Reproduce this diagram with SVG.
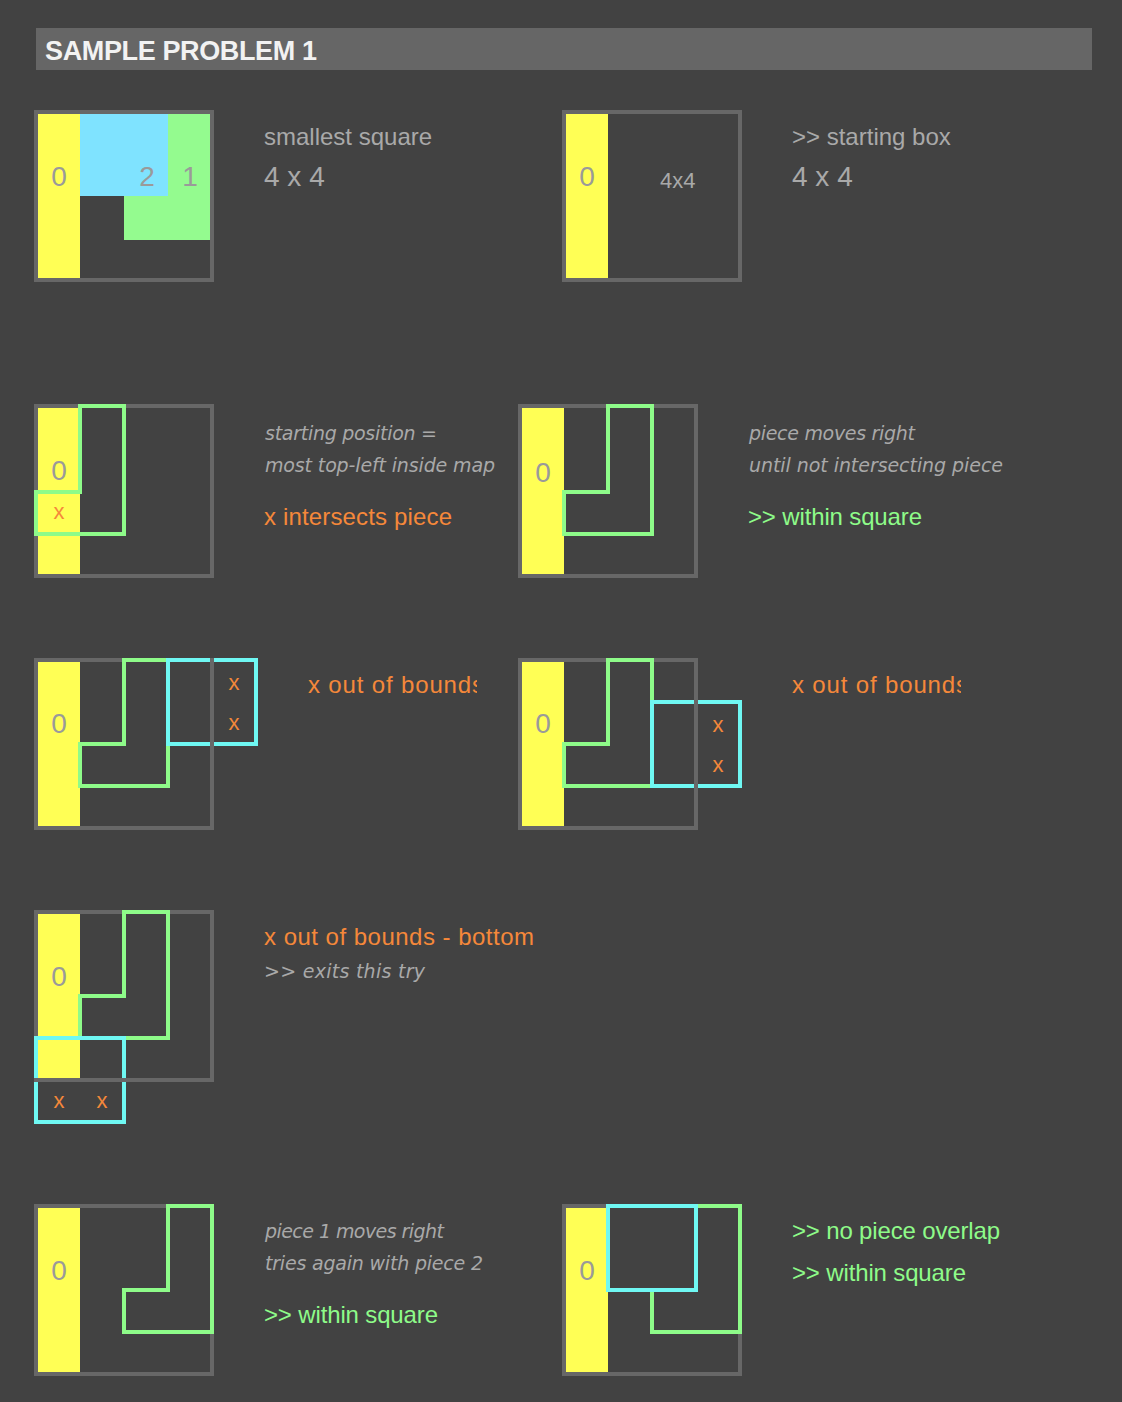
<svg xmlns="http://www.w3.org/2000/svg" width="1122" height="1402" viewBox="0 0 1122 1402">
<style>
.frame{fill:none;stroke:#676767;stroke-width:4}
.edge{stroke:#676767;stroke-width:4}
.yel{fill:#ffff55}
.blu{fill:#7fe3ff}
.grn{fill:#94fb8f}
.p1{fill:none;stroke:#8efb89;stroke-width:4}
.p2{fill:none;stroke:#6ff8f3;stroke-width:4}
.dig{font-family:"Liberation Sans",Arial,sans-serif;font-size:28px;fill:#9a9a9a;text-anchor:middle}
.xm{font-family:"Liberation Sans",Arial,sans-serif;font-size:22px;fill:#f5883a;text-anchor:middle}
.lab{font-family:"Liberation Sans",Arial,sans-serif;font-size:24px;fill:#a9a9a9}
.big{font-family:"Liberation Sans",Arial,sans-serif;font-size:28px;fill:#a9a9a9}
.it{font-family:"DejaVu Sans",sans-serif;font-style:italic;font-size:19px;fill:#a9a9a9}
.or{font-family:"Liberation Sans",Arial,sans-serif;font-size:24px;fill:#f5883a}
.gr{font-family:"Liberation Sans",Arial,sans-serif;font-size:24px;fill:#8efb89}
</style>
<defs>
<clipPath id="clipA"><rect x="300" y="660" width="177" height="50"/></clipPath>
<clipPath id="clipB"><rect x="784" y="660" width="177" height="50"/></clipPath>
</defs>
<rect width="1122" height="1402" fill="#424242"/>
<g id="header">
<rect x="36" y="28" width="1056" height="42" fill="#666666"/>
<text x="45" y="60" font-family="Liberation Sans, Arial, sans-serif" font-size="27" font-weight="bold" fill="#f2f2f2" textLength="272">SAMPLE PROBLEM 1</text>
</g>

<g id="panel1">
<rect class="yel" x="38" y="114" width="42" height="164"/>
<rect class="blu" x="80" y="114" width="88" height="82"/>
<rect class="grn" x="168" y="114" width="42" height="126"/>
<rect class="grn" x="124" y="196" width="44" height="44"/>
<rect class="frame" x="36" y="112" width="176" height="168"/>
<text class="dig" x="59" y="186">0</text>
<text class="dig" x="147" y="186">2</text>
<text class="dig" x="190" y="186">1</text>
</g>
<g id="text1">
<text class="lab" x="264" y="145">smallest square</text>
<text class="big" x="264" y="186">4 x 4</text>
</g>

<g id="panel2">
<rect class="yel" x="566" y="114" width="42" height="164"/>
<rect class="frame" x="564" y="112" width="176" height="168"/>
<text class="dig" x="587" y="186">0</text>
<text x="660" y="188" font-family="Liberation Sans, Arial, sans-serif" font-size="22" fill="#a9a9a9">4x4</text>
</g>
<g id="text2">
<text class="lab" x="792" y="145">&gt;&gt; starting box</text>
<text class="big" x="792" y="186">4 x 4</text>
</g>

<g id="panel3">
<rect class="yel" x="38" y="408" width="42" height="166"/>
<rect class="frame" x="36" y="406" width="176" height="170"/>
<text class="dig" x="59" y="480">0</text>
<path class="p1" d="M80,406 H124 V534 H36 V492 H80 Z"/>
<text class="xm" x="59" y="519">x</text>
</g>
<g id="text3">
<text class="it" x="265" y="440" textLength="172">starting position =</text>
<text class="it" x="265" y="472" textLength="230">most top-left inside map</text>
<text class="or" x="264" y="525" textLength="188">x intersects piece</text>
</g>

<g id="panel4">
<rect class="yel" x="522" y="408" width="42" height="166"/>
<rect class="frame" x="520" y="406" width="176" height="170"/>
<text class="dig" x="543" y="482">0</text>
<path class="p1" d="M608,406 H652 V534 H564 V492 H608 Z"/>
</g>
<g id="text4">
<text class="it" x="749" y="440" textLength="166">piece moves right</text>
<text class="it" x="749" y="472" textLength="254">until not intersecting piece</text>
<text class="gr" x="748" y="525" textLength="174">&gt;&gt; within square</text>
</g>

<g id="panel5">
<rect class="yel" x="38" y="662" width="42" height="164"/>
<rect class="frame" x="36" y="660" width="176" height="168"/>
<text class="dig" x="59" y="733">0</text>
<path class="p1" d="M124,660 H168 V786 H80 V744 H124 Z"/>
<rect class="p2" x="168" y="660" width="88" height="84"/>
<line class="edge" x1="212" y1="658" x2="212" y2="830"/>
<text class="xm" x="234" y="690">x</text>
<text class="xm" x="234" y="730">x</text>
</g>
<g id="text5">
<text class="or" x="308" y="693" textLength="176" clip-path="url(#clipA)">x out of bounds</text>
</g>

<g id="panel6">
<rect class="yel" x="522" y="662" width="42" height="164"/>
<rect class="frame" x="520" y="660" width="176" height="168"/>
<text class="dig" x="543" y="733">0</text>
<path class="p1" d="M608,660 H652 V786 H564 V744 H608 Z"/>
<rect class="p2" x="652" y="702" width="88" height="84"/>
<line class="edge" x1="696" y1="658" x2="696" y2="830"/>
<text class="xm" x="718" y="732">x</text>
<text class="xm" x="718" y="772">x</text>
</g>
<g id="text6">
<text class="or" x="792" y="693" textLength="176" clip-path="url(#clipB)">x out of bounds</text>
</g>

<g id="panel7">
<rect class="yel" x="38" y="914" width="42" height="164"/>
<rect class="frame" x="36" y="912" width="176" height="168"/>
<text class="dig" x="59" y="986">0</text>
<path class="p1" d="M124,912 H168 V1038 H80 V996 H124 Z"/>
<rect class="p2" x="36" y="1038" width="88" height="84"/>
<line class="edge" x1="34" y1="1080" x2="214" y2="1080"/>
<text class="xm" x="59" y="1108">x</text>
<text class="xm" x="102" y="1108">x</text>
</g>
<g id="text7">
<text class="or" x="264" y="945" textLength="270">x out of bounds - bottom</text>
<text class="it" x="264" y="978" textLength="161">&gt;&gt; exits this try</text>
</g>

<g id="panel8">
<rect class="yel" x="38" y="1208" width="42" height="164"/>
<rect class="frame" x="36" y="1206" width="176" height="168"/>
<text class="dig" x="59" y="1280">0</text>
<path class="p1" d="M168,1206 H212 V1332 H124 V1290 H168 Z"/>
</g>
<g id="text8">
<text class="it" x="265" y="1238" textLength="179">piece 1 moves right</text>
<text class="it" x="265" y="1270" textLength="218">tries again with piece 2</text>
<text class="gr" x="264" y="1323" textLength="174">&gt;&gt; within square</text>
</g>

<g id="panel9">
<rect class="yel" x="566" y="1208" width="42" height="164"/>
<rect class="frame" x="564" y="1206" width="176" height="168"/>
<text class="dig" x="587" y="1280">0</text>
<path class="p1" d="M696,1206 H740 V1332 H652 V1290 H696 Z"/>
<rect class="p2" x="608" y="1206" width="88" height="84"/>
</g>
<g id="text9">
<text class="gr" x="792" y="1239" textLength="208">&gt;&gt; no piece overlap</text>
<text class="gr" x="792" y="1281" textLength="174">&gt;&gt; within square</text>
</g>
<g id="connectors"></g>
</svg>
